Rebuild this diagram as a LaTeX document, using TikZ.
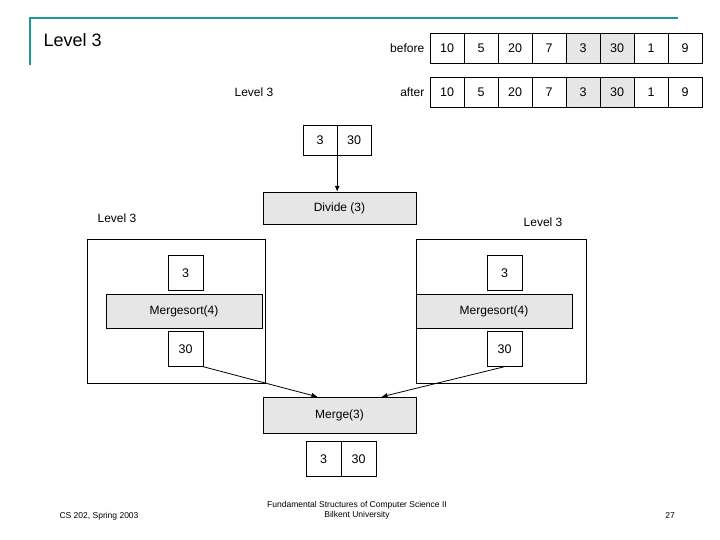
\documentclass[tikz,border=0pt]{standalone}
\usepackage{fontspec}
\setmainfont{Liberation Sans}
\usepackage{xcolor}
\usetikzlibrary{arrows.meta,positioning}
\definecolor{frameteal}{RGB}{32,150,150}
\definecolor{boxgray}{RGB}{230,230,230}

\begin{document}
\begin{tikzpicture}[
    x=1pt, y=-1pt,
    font=\fontsize{12}{14}\selectfont,
    cell/.style={
        draw,
        rectangle,
        minimum width=34pt,
        minimum height=30pt,
        inner sep=0pt,
        font=\fontsize{12.5}{14}\selectfont
    },
    hot/.style={cell, fill=boxgray},
    stage/.style={
        draw,
        rectangle,
        fill=boxgray,
        minimum height=32pt,
        inner sep=0pt
    },
    frame/.style={draw, rectangle, inner sep=0pt},
    arrow/.style={-{Latex[length=6pt,width=5pt]}, thick}
]
\useasboundingbox (0,0) rectangle (720,540);

% ----------------------------------------------------------
% HEADER
% ----------------------------------------------------------

\draw[frameteal, line width=2.5pt] (30,65) -- (30,18) -- (678,18);
\node[anchor=west, font=\fontsize{18}{20}\selectfont] (title) at (40,40) {Level 3};

% ----------------------------------------------------------
% ARRAYS
% ----------------------------------------------------------

\foreach \v [count=\i] in {10,5,20,7,3,30,1,9} {
    \ifnum\i=5 \def\sty{hot}\else\ifnum\i=6 \def\sty{hot}\else\def\sty{cell}\fi\fi
    \node[\sty] (b\i) at (430+34*\i-17,48) {\v};
    \node[\sty] (a\i) at (430+34*\i-17,92) {\v};
}
\node[left=2pt of b1] {before};
\node[left=2pt of a1] {after};
\node (lvtop) at (254,92) {Level 3};

\node[cell] (in1) at (320,140) {3};
\node[cell] (in2) at (354,140) {30};

% ----------------------------------------------------------
% STAGES
% ----------------------------------------------------------

\node[stage, minimum width=153pt] (divide) at (339.5,208) {Divide (3)};

\node (lvleft) at (117,218) {Level 3};
\node (lvright) at (543,222) {Level 3};
\node[frame, minimum width=178pt, minimum height=144pt] (left) at (176,311) {};
\node[frame, minimum width=170pt, minimum height=144pt] (right) at (501,311) {};

\node[cell, minimum width=35pt, minimum height=35pt] (l3) at (185.5,273) {3};
\node[stage, minimum width=156pt, minimum height=34pt] (lsort) at (184,311) {Mergesort(4)};
\node[cell, minimum width=35pt, minimum height=35pt] (l30) at (185.5,349) {30};

\node[cell, minimum width=35pt, minimum height=35pt] (r3) at (504.5,273) {3};
\node[stage, minimum width=156pt, minimum height=34pt] (rsort) at (494,311) {Mergesort(4)};
\node[cell, minimum width=35pt, minimum height=35pt] (r30) at (504.5,349) {30};

\node[stage, minimum width=153pt, minimum height=36pt] (merge) at (339.5,415) {Merge(3)};

\node[cell, minimum width=35pt, minimum height=35pt] (out1) at (323.5,459) {3};
\node[cell, minimum width=35pt, minimum height=35pt] (out2) at (358.5,459) {30};

% ----------------------------------------------------------
% ARROWS
% ----------------------------------------------------------

\draw[arrow] (in1.south east) -- (divide.north -| in1.south east);
\draw[arrow] (l30.south east) -- ([xshift=-22pt]merge.north);
\draw[arrow] (r30.south) -- ([xshift=42pt]merge.north);

% ----------------------------------------------------------
% FOOTER
% ----------------------------------------------------------

\node[font=\fontsize{8.5}{10}\selectfont] (course) at (99,516) {CS 202, Spring 2003};
\node[font=\fontsize{8.5}{10}\selectfont, align=center] (book) at (357,510) {Fundamental Structures of Computer Science II\\Bilkent University};
\node[font=\fontsize{8.5}{10}\selectfont] (page) at (670,516) {27};

\end{tikzpicture}
\end{document}
